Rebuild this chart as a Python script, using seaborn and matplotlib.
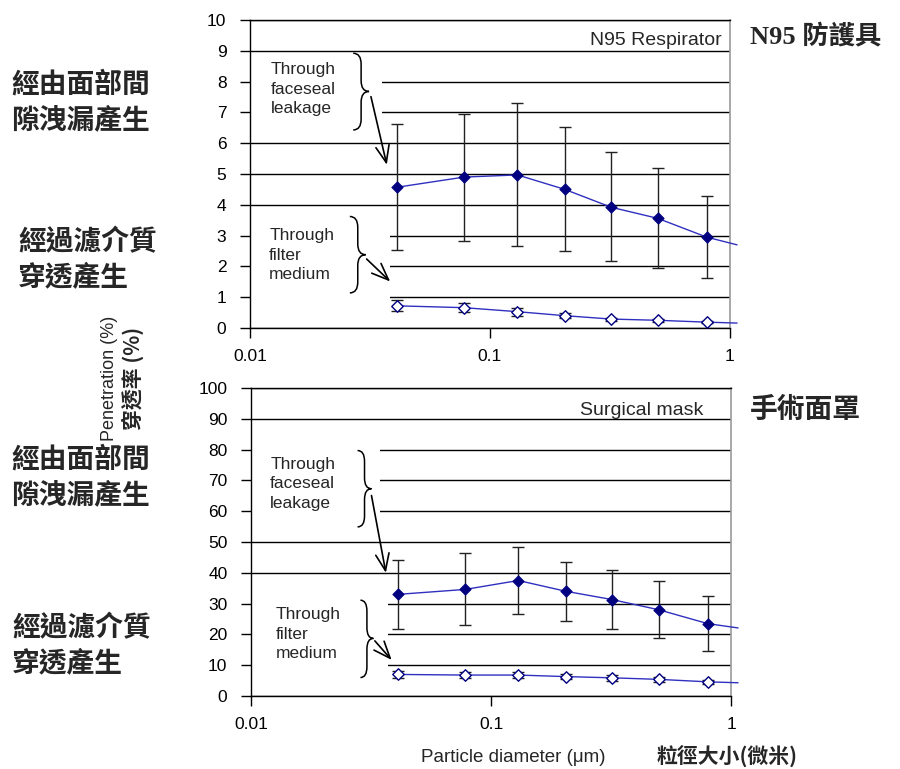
import numpy as np
import pandas as pd
import matplotlib
matplotlib.use("Agg")
import matplotlib.pyplot as plt
import seaborn as sns
from matplotlib.path import Path
from matplotlib.patches import PathPatch, Rectangle
from matplotlib.ticker import FixedLocator, FixedFormatter, NullLocator

# ---------------- data ----------------
sizes = [0.041, 0.078, 0.13, 0.205, 0.32, 0.5, 0.8]
curve_end_x = 1.07
x_tick_vals = [0.01, 0.1, 1]
x_tick_labels = ["0.01", "0.1", "1"]

n95_leak = [4.57, 4.90, 4.97, 4.50, 3.92, 3.56, 2.95]
n95_leak_hi = [6.63, 6.94, 7.29, 6.53, 5.71, 5.18, 4.29]
n95_leak_lo = [2.54, 2.83, 2.66, 2.49, 2.18, 1.95, 1.61]
n95_leak_end = 2.70
n95_filt = [0.72, 0.66, 0.53, 0.40, 0.29, 0.25, 0.19]
n95_filt_hi = [0.90, 0.81, 0.66, 0.48, 0.34, 0.29, 0.22]
n95_filt_lo = [0.56, 0.51, 0.38, 0.32, 0.24, 0.20, 0.16]
n95_filt_end = 0.16

surg_leak = [33.0, 34.6, 37.5, 34.0, 31.3, 28.0, 23.5]
surg_leak_hi = [44.3, 46.3, 48.5, 43.6, 40.8, 37.4, 32.5]
surg_leak_lo = [21.9, 23.0, 26.5, 24.4, 21.8, 18.7, 14.7]
surg_leak_end = 22.1
surg_filt = [7.0, 6.8, 6.8, 6.3, 5.9, 5.4, 4.6]
surg_filt_hi = [8.1, 7.8, 7.8, 7.3, 6.8, 6.3, 5.3]
surg_filt_lo = [6.0, 5.9, 5.9, 5.4, 5.0, 4.6, 4.0]
surg_filt_end = 4.3

n95_yticks = list(range(0, 11, 1))
surg_yticks = list(range(0, 101, 10))

# ---------------- style ----------------
sns.set_style("ticks")
plt.rcParams["font.family"] = ["Liberation Sans", "Noto Sans CJK TC", "DejaVu Sans"]
CJK = ["Noto Sans CJK TC", "DejaVu Sans"]
NAVY = "#000080"
LINE = "#3030c0"

W, H = 900, 769
fig = plt.figure(figsize=(9, 7.69), dpi=100)
fig.patch.set_facecolor("white")


def fx(px):
    return px / W


def fy(py):
    return 1 - py / H


ax_top = fig.add_axes([fx(250), fy(328), (730 - 250) / W, (328 - 20) / H])
ax_bot = fig.add_axes([fx(251), fy(696), (731 - 251) / W, (696 - 388) / H])


def brace(ax, x_left, x_tip, y_top, y_bot, y_mid, r=0.035):
    xm = (x_left + x_tip) / 2
    verts = [
        (x_left, y_top), (xm, y_top), (xm, y_top - r),
        (xm, y_mid + r),
        (xm, y_mid), (x_tip, y_mid),
        (xm, y_mid), (xm, y_mid - r),
        (xm, y_bot + r),
        (xm, y_bot), (x_left, y_bot),
    ]
    codes = [Path.MOVETO, Path.CURVE3, Path.CURVE3, Path.LINETO,
             Path.CURVE3, Path.CURVE3, Path.CURVE3, Path.CURVE3,
             Path.LINETO, Path.CURVE3, Path.CURVE3]
    ax.add_patch(PathPatch(Path(verts, codes), transform=ax.transAxes,
                           facecolor="none", edgecolor="black", lw=1.1,
                           zorder=6, clip_on=False))


def arrow(ax, start, end):
    ax.annotate("", xy=end, xytext=start, xycoords="axes fraction",
                textcoords="axes fraction",
                arrowprops=dict(arrowstyle="->,head_length=0.55,head_width=0.22",
                                color="black", lw=1.2, mutation_scale=22,
                                shrinkA=0, shrinkB=0), zorder=7)


def panel(ax, yticks, leak, lhi, llo, lend, filt, fhi, flo, fend,
          patches, title, title_xy):
    ax.set_xscale("log")
    ax.set_xlim(x_tick_vals[0], x_tick_vals[-1])
    ax.set_ylim(yticks[0], yticks[-1])
    ax.set_yticks(yticks)
    ax.xaxis.set_major_locator(FixedLocator(x_tick_vals))
    ax.xaxis.set_major_formatter(FixedFormatter(x_tick_labels))
    ax.xaxis.set_minor_locator(NullLocator())
    ax.set_axisbelow(True)
    ax.yaxis.grid(True, color="black", lw=1.0)
    ax.xaxis.grid(False)
    for s in ["left", "top", "bottom"]:
        ax.spines[s].set_color("black")
        ax.spines[s].set_linewidth(1.0)
    ax.spines["right"].set_color("#9a9a9a")
    ax.spines["right"].set_linewidth(1.2)
    ax.tick_params(axis="y", direction="out", length=7, width=1, labelsize=12.5,
                   pad=10, colors="black")
    ax.tick_params(axis="x", direction="out", length=7, width=1, labelsize=12.5,
                   pad=8, colors="black")

    # white boxes behind the annotation text (hide gridlines there)
    for (y0, y1, xr) in patches:
        ax.add_patch(Rectangle((0.003, y0), xr - 0.003, y1 - y0,
                               transform=ax.transAxes, facecolor="white",
                               edgecolor="none", zorder=1.2))

    xs_line = sizes + [curve_end_x]
    df_leak = pd.DataFrame({"x": xs_line, "y": leak + [lend]})
    df_filt = pd.DataFrame({"x": xs_line, "y": filt + [fend]})
    sns.lineplot(data=df_leak, x="x", y="y", ax=ax, color=LINE, lw=1.0,
                 clip_on=False, zorder=4)
    sns.lineplot(data=df_filt, x="x", y="y", ax=ax, color=LINE, lw=1.0,
                 clip_on=False, zorder=4)

    leak_a, filt_a = np.array(leak), np.array(filt)
    ax.errorbar(sizes, leak, yerr=[leak_a - np.array(llo), np.array(lhi) - leak_a],
                fmt="none", ecolor="#222222", elinewidth=1.0, capsize=4.5,
                capthick=1.0, zorder=3)
    ax.errorbar(sizes, filt, yerr=[filt_a - np.array(flo), np.array(fhi) - filt_a],
                fmt="none", ecolor="#222222", elinewidth=1.0, capsize=4.5,
                capthick=1.0, zorder=3)

    sns.scatterplot(x=sizes, y=leak, ax=ax, marker="D", s=32, color=NAVY,
                    edgecolor=NAVY, linewidth=0.8, zorder=5)
    sns.scatterplot(x=sizes, y=filt, ax=ax, marker="D", s=34, color="white",
                    edgecolor=NAVY, linewidth=1.0, zorder=5)
    ax.set_xlabel("")
    ax.set_ylabel("")

    ax.text(title_xy[0], title_xy[1], title, transform=ax.transAxes,
            ha="right", va="center", fontsize=14, zorder=6)


panel(ax_top, n95_yticks, n95_leak, n95_leak_hi, n95_leak_lo, n95_leak_end,
      n95_filt, n95_filt_hi, n95_filt_lo, n95_filt_end,
      patches=[(0.62, 0.88, 0.274), (0.05, 0.35, 0.292)],
      title="N95 Respirator", title_xy=(0.982, 0.935))
panel(ax_bot, surg_yticks, surg_leak, surg_leak_hi, surg_leak_lo, surg_leak_end,
      surg_filt, surg_filt_hi, surg_filt_lo, surg_filt_end,
      patches=[(0.55, 0.85, 0.268), (0.05, 0.35, 0.285)],
      title="Surgical mask", title_xy=(0.942, 0.927))

# annotations inside the panels
ANN = dict(ha="left", va="center", fontsize=12.5, linespacing=1.38, zorder=6)
ax_top.text(0.044, 0.775, "Through\nfaceseal\nleakage", transform=ax_top.transAxes, **ANN)
brace(ax_top, 0.215, 0.248, 0.892, 0.643, 0.768)
arrow(ax_top, (0.252, 0.751), (0.285, 0.530))
ax_top.text(0.040, 0.236, "Through\nfilter\nmedium", transform=ax_top.transAxes, **ANN)
brace(ax_top, 0.208, 0.241, 0.362, 0.114, 0.238)
arrow(ax_top, (0.243, 0.224), (0.292, 0.151))

ax_bot.text(0.040, 0.689, "Through\nfaceseal\nleakage", transform=ax_bot.transAxes, **ANN)
brace(ax_bot, 0.222, 0.251, 0.797, 0.549, 0.673)
arrow(ax_bot, (0.251, 0.651), (0.281, 0.400))
ax_bot.text(0.051, 0.200, "Through\nfilter\nmedium", transform=ax_bot.transAxes, **ANN)
brace(ax_bot, 0.228, 0.255, 0.311, 0.060, 0.187)
arrow(ax_bot, (0.258, 0.179), (0.293, 0.117))

# Chinese side labels
side_lines = [
    ("經由面部間", 11, 85), ("隙洩漏產生", 11, 120),
    ("經過濾介質", 18, 242), ("穿透產生", 18, 277),
    ("經由面部間", 11, 460), ("隙洩漏產生", 11, 495),
    ("經過濾介質", 12, 628), ("穿透產生", 12, 663),
]
for txt, px, py in side_lines:
    fig.text(fx(px), fy(py), txt, ha="left", va="center", fontsize=20,
             fontweight="bold", family=CJK)

fig.text(fx(750), fy(36), "N95 防護具", ha="left", va="center", fontsize=19,
         fontweight="bold", family=["Liberation Serif", "Noto Sans CJK TC"])
fig.text(fx(750), fy(410), "手術面罩", ha="left", va="center", fontsize=20,
         fontweight="bold", family=CJK)

# axis titles
fig.text(fx(110), fy(378), "Penetration (%)", rotation=90, ha="center",
         va="center", fontsize=13)
fig.text(fx(133), fy(378), "穿透率 (%)", rotation=90, ha="center",
         va="center", fontsize=15, fontweight="bold", family=CJK)
fig.text(fx(513), fy(757), "Particle diameter (μm)", ha="center", va="center",
         fontsize=13.5)
fig.text(fx(657), fy(757), "粒徑大小(微米)", ha="left", va="center",
         fontsize=15, fontweight="bold", family=CJK)

fig.savefig("out.png", dpi=100, facecolor="white")
